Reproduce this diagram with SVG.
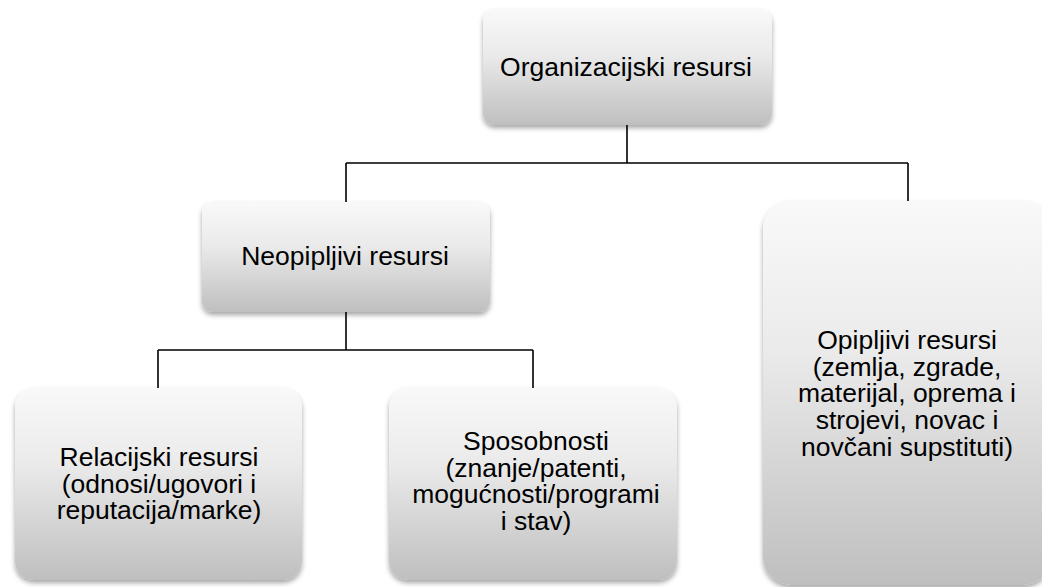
<svg xmlns="http://www.w3.org/2000/svg" width="1042" height="587" viewBox="0 0 1042 587">
<defs>
<linearGradient id="g" x1="0" y1="0" x2="0" y2="1">
<stop offset="0" stop-color="#f9f9f9"/>
<stop offset="0.4" stop-color="#eaeaea"/>
<stop offset="1" stop-color="#bfbfbf"/>
</linearGradient>
<filter id="sh" x="-10%" y="-10%" width="120%" height="125%">
<feDropShadow dx="0" dy="3" stdDeviation="2.5" flood-color="#000" flood-opacity="0.35"/>
</filter>
</defs>
<style>
.box{fill:url(#g);filter:url(#sh);}
.t{font-family:"Liberation Sans",Arial,sans-serif;font-size:26.5px;fill:#000;text-anchor:middle;}
.c{fill:none;stroke:#000;stroke-width:1.6;}
</style>
<rect width="1042" height="587" fill="#fff"/>
<g id="connectors">
<path class="c" d="M627 125V163M346 163H908M346 163V202M908 163V201"/>
<path class="c" d="M346 312V350M158 350H533M158 350V388M533 350V388"/>
</g>
<g id="n-org">
<rect class="box" x="483" y="9" width="289" height="116" rx="12"/>
<text class="t" x="626" y="76">Organizacijski resursi</text>
</g>
<g id="n-neo">
<rect class="box" x="202" y="202" width="288" height="110" rx="11"/>
<text class="t" x="345" y="265">Neopipljivi resursi</text>
</g>
<g id="n-opi">
<rect class="box" x="763" y="201" width="288" height="384" rx="28"/>
<text class="t" x="907"><tspan x="907" y="349">Opipljivi resursi</tspan><tspan x="907" y="375.5">(zemlja, zgrade,</tspan><tspan x="907" y="402">materijal, oprema i</tspan><tspan x="907" y="429">strojevi, novac i</tspan><tspan x="907" y="456">novčani supstituti)</tspan></text>
</g>
<g id="n-rel">
<rect class="box" x="15" y="388" width="287" height="192" rx="19"/>
<text class="t" x="159"><tspan x="159" y="466">Relacijski resursi</tspan><tspan x="159" y="493">(odnosi/ugovori i</tspan><tspan x="159" y="519">reputacija/marke)</tspan></text>
</g>
<g id="n-spo">
<rect class="box" x="389" y="388" width="288" height="192" rx="19"/>
<text class="t" x="536"><tspan x="536" y="450">Sposobnosti</tspan><tspan x="536" y="476.5">(znanje/patenti,</tspan><tspan x="536" y="503">mogućnosti/programi</tspan><tspan x="536" y="530">i stav)</tspan></text>
</g>
</svg>
